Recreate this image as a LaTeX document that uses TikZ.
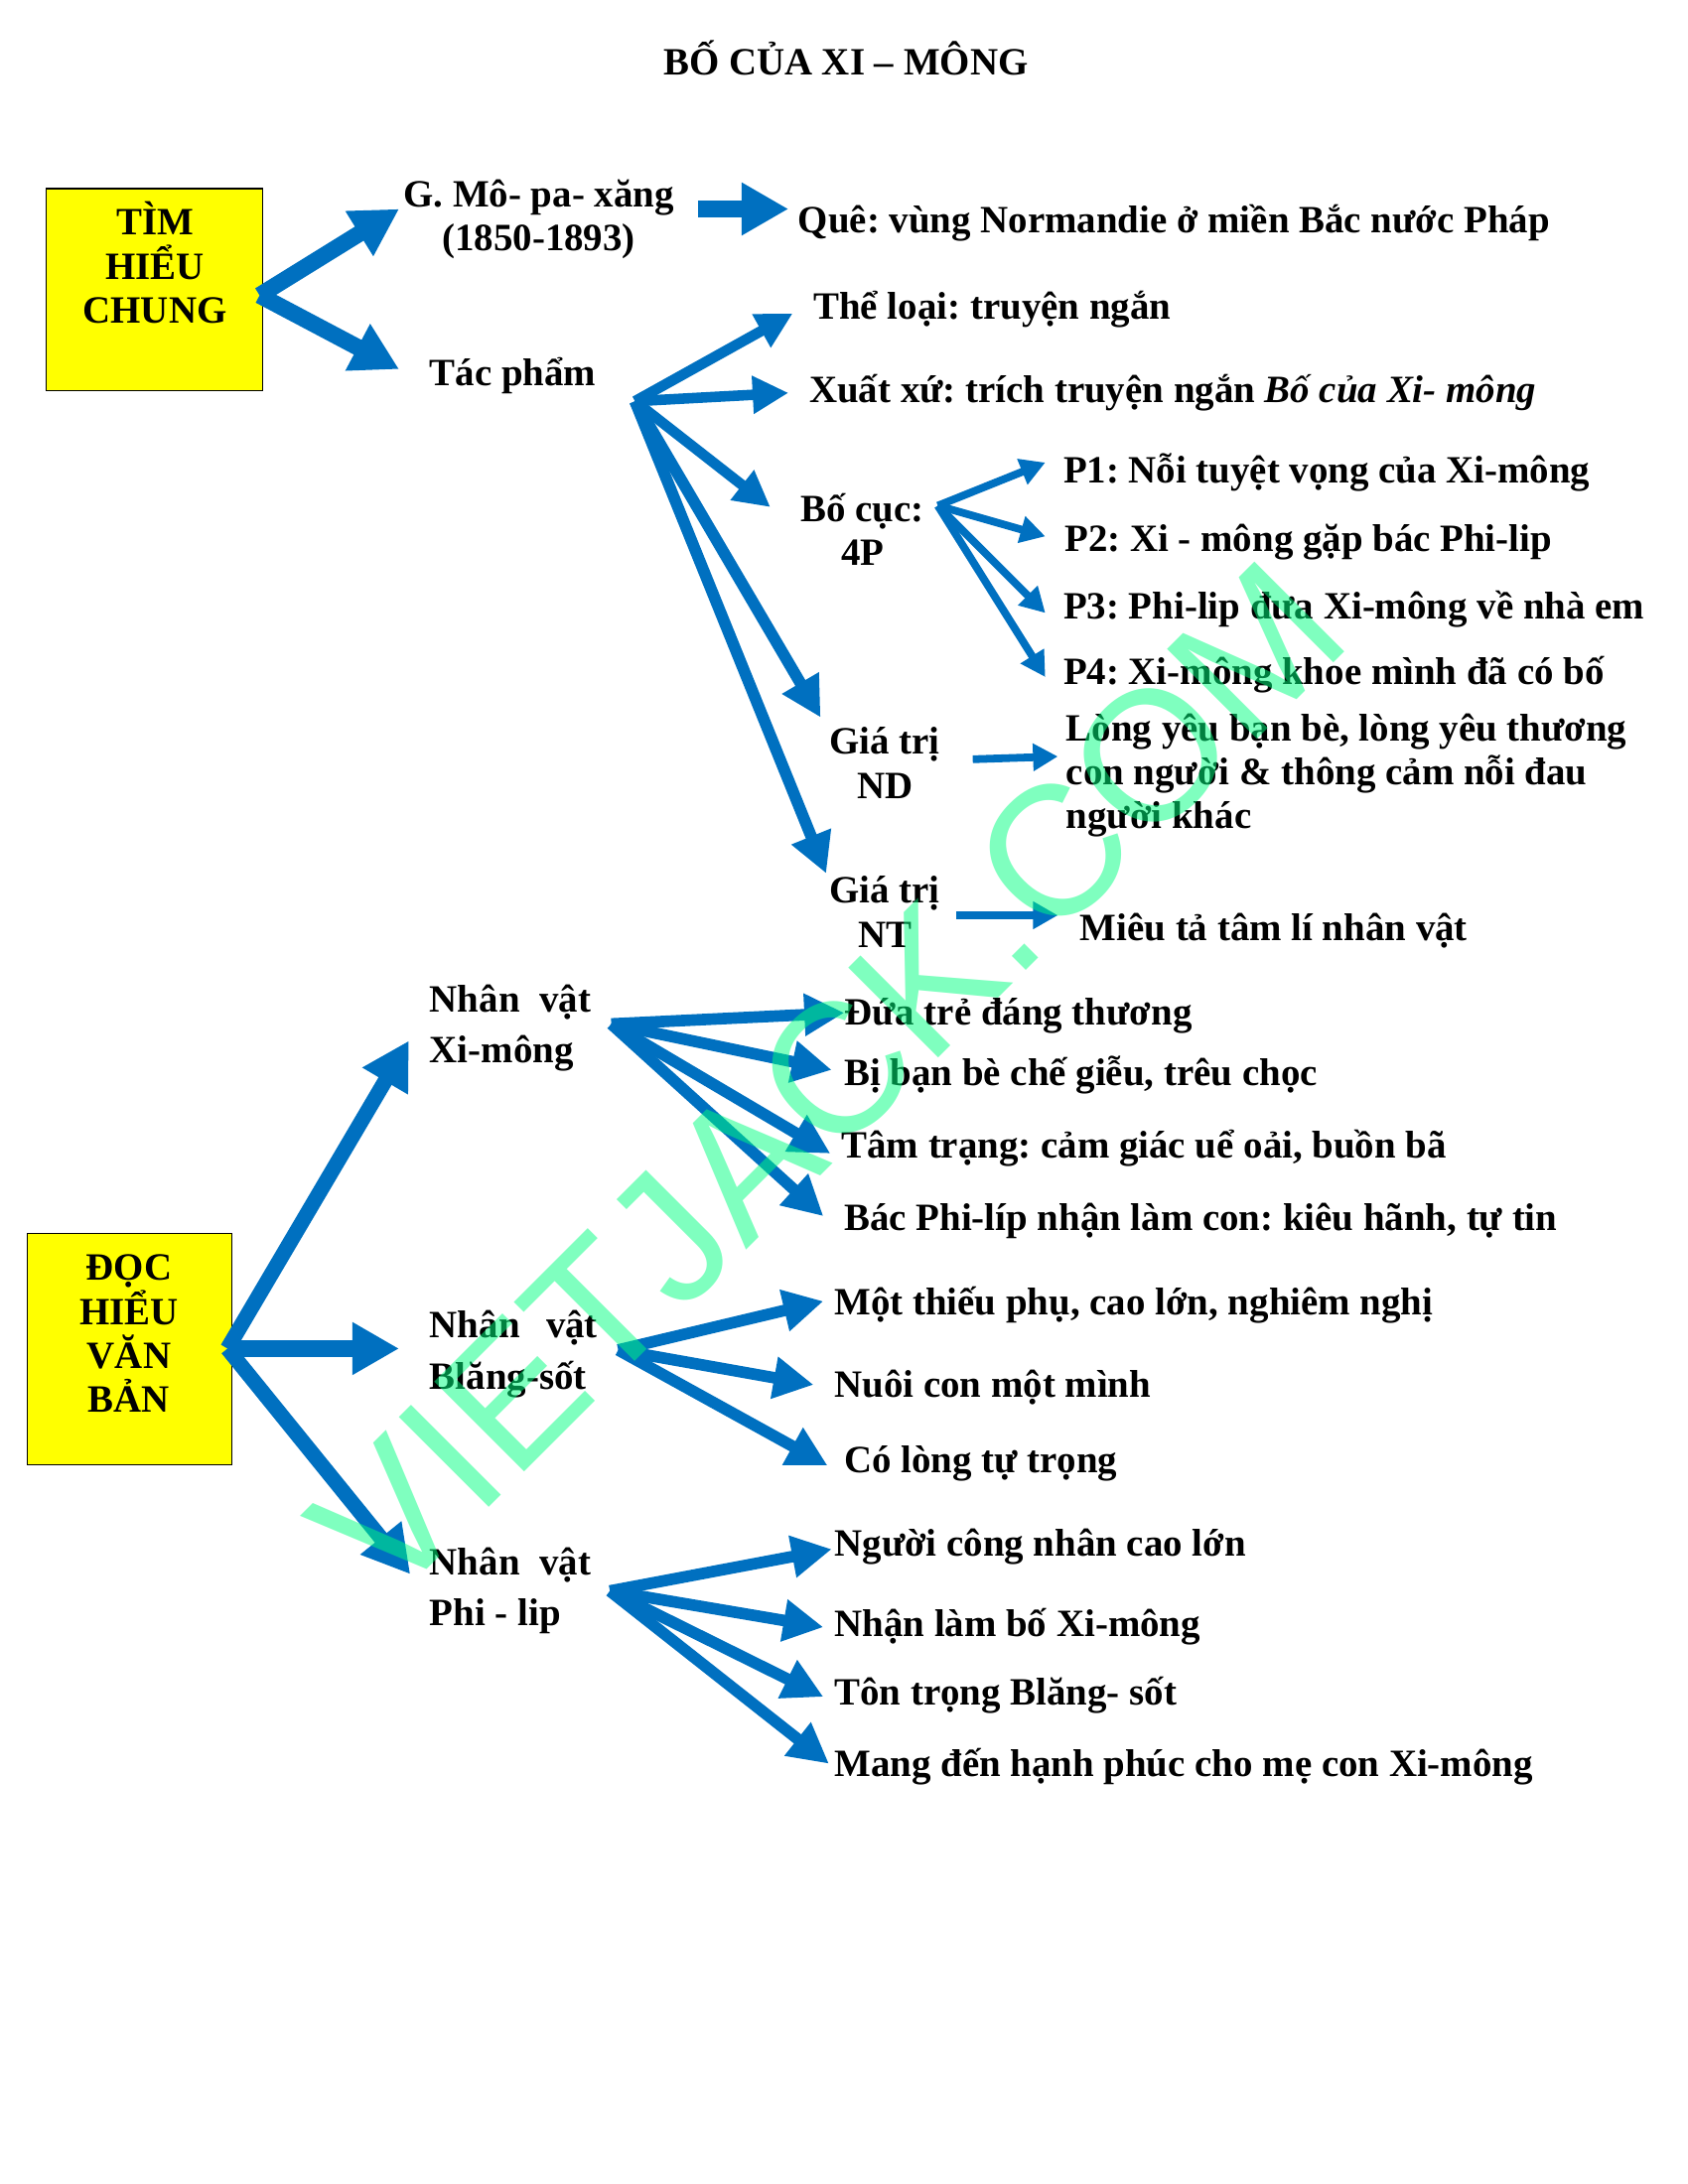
\documentclass[tikz,border=0pt]{standalone}
\usepackage{fontspec}
\setmainfont{Liberation Serif}
\newfontfamily\wmfont{Liberation Sans}
\usetikzlibrary{arrows.meta}
\definecolor{arrowblue}{HTML}{0070C0}
\definecolor{boxyellow}{HTML}{FFFF00}
\frenchspacing
\tikzset{
  lbl/.style={inner sep=0pt,outer sep=0pt,font=\fontsize{14}{16}\selectfont\bfseries\frenchspacing,anchor=base west},
  ctr/.style={lbl,anchor=base,align=center},
  wide/.style={lbl,align=left,font=\fontsize{14}{18.5}\selectfont\bfseries\frenchspacing},
  yellowbox/.style={draw=black,line width=0.4pt,fill=boxyellow},
  bigarrow/.style={draw=arrowblue,line width=6pt,-{Triangle[length=17pt,width=18pt]}},
  bigslim/.style={draw=arrowblue,line width=5.5pt,-{Triangle[length=17pt,width=18pt]}},
  midbold/.style={draw=arrowblue,line width=4.2pt,-{Triangle[length=14.5pt,width=14.5pt]}},
  midarrow/.style={draw=arrowblue,line width=3.8pt,-{Triangle[length=13pt,width=13pt]}},
  thinarrow/.style={draw=arrowblue,line width=2.8pt,-{Triangle[length=9pt,width=9.5pt]}},
  watermark/.style={inner sep=0pt,outer sep=0pt,anchor=base west,rotate=45,text opacity=0.5,text={rgb,255:red,0;green,255;blue,128},font=\wmfont\fontsize{67}{67}\selectfont},
}
\begin{document}
\begin{tikzpicture}[x=0.506pt,y=-0.5052pt]
\useasboundingbox (0,0) rectangle (1209.5,1567.7);
% boxes
\node[yellowbox,minimum width=78.4pt,minimum height=73.4pt,inner sep=0pt,anchor=north west] (boxA) at (33,135) {};
\node[yellowbox,minimum width=74.4pt,minimum height=84pt,inner sep=0pt,anchor=north west] (boxB) at (19,885) {};
\node[ctr] (boxAtext) at (111,232) {TÌM\\HIỂU\\CHUNG};
\node[ctr] (boxBtext) at (92.5,1014) {ĐỌC\\HIỂU\\VĂN\\BẢN};
% title and texts
\node[ctr] (title) at (606,54) {BỐ CỦA XI – MÔNG};
\node[ctr] (author) at (386,180) {G. Mô- pa- xăng\\(1850-1893)};
\node[lbl] (que) at (572,167) {Quê: vùng Normandie ở miền Bắc nước Pháp};
\node[lbl] (tacpham) at (308,277) {Tác phẩm};
\node[lbl] (theloai) at (583,229) {Thể loại: truyện ngắn};
\node[lbl] (xuatxu) at (580,289) {Xuất xứ: trích truyện ngắn \textit{Bố của Xi- mông}};
\node[ctr] (bocuc) at (618,406) {Bố cục:\\4P};
\node[lbl] (p1) at (762,347) {P1: Nỗi tuyệt vọng của Xi-mông};
\node[lbl] (p2) at (763,396) {P2: Xi - mông gặp bác Phi-lip};
\node[lbl] (p3) at (762,444) {P3: Phi-lip đưa Xi-mông về nhà em};
\node[lbl] (p4) at (762,491) {P4: Xi-mông khoe mình đã có bố};
\node[ctr] (nd) at (634,573) {Giá trị\\ND};
\node[lbl,align=left] (ndtext) at (764,595) {Lòng yêu bạn bè, lòng yêu thương\\con người \& thông cảm nỗi đau\\người khác};
\node[ctr] (nt) at (634,680) {Giá trị\\NT};
\node[lbl] (nttext) at (774,675) {Miêu tả tâm lí nhân vật};
\node[wide] (nv1) at (308,763) {Nhân\hspace{0.5em}vật\\Xi-mông};
\node[lbl] (a1) at (605,736) {Đứa trẻ đáng thương};
\node[lbl] (a2) at (605,779) {Bị bạn bè chế giễu, trêu chọc};
\node[lbl] (a3) at (603,831) {Tâm trạng: cảm giác uể oải, buồn bã};
\node[lbl] (a4) at (605,883) {Bác Phi-líp nhận làm con: kiêu hãnh, tự tin};
\node[wide] (nv2) at (308,997) {Nhân\hspace{0.68em}vật\\Blăng-sốt};
\node[lbl] (b1) at (598,944) {Một thiếu phụ, cao lớn, nghiêm nghị};
\node[lbl] (b2) at (598,1003) {Nuôi con một mình};
\node[lbl] (b3) at (605,1057) {Có lòng tự trọng};
\node[wide] (nv3) at (308,1167) {Nhân\hspace{0.5em}vật\\Phi - lip};
\node[lbl] (c1) at (598,1117) {Người công nhân cao lớn};
\node[lbl] (c2) at (598,1175) {Nhận làm bố Xi-mông};
\node[lbl] (c3) at (598,1224) {Tôn trọng Blăng- sốt};
\node[lbl] (c4) at (598,1275) {Mang đến hạnh phúc cho mẹ con Xi-mông};
% hubs
\coordinate (hA) at (186,212);
\coordinate (hT) at (455,288);
\coordinate (hP) at (672,363);
\coordinate (hX) at (438,735);
\coordinate (hB) at (163,968);
\coordinate (hS) at (443,969);
\coordinate (hL) at (437,1142);
% ends
\coordinate (eAuthor) at (286,150);
\coordinate (eTac) at (286,265);
\coordinate (sQue) at (500,150);
\coordinate (eQue) at (565,150);
\coordinate (eThe) at (568,225);
\coordinate (eXuat) at (565,282);
\coordinate (eBo) at (552,364);
\coordinate (eNd) at (588,515);
\coordinate (eNt) at (592,627);
\coordinate (eP1) at (749,332);
\coordinate (eP2) at (749,385);
\coordinate (eP3) at (749,440);
\coordinate (eP4) at (749,486);
\coordinate (sNd) at (697,545);
\coordinate (eNdT) at (758,543);
\coordinate (sNt) at (685,657);
\coordinate (eNtT) at (758,657);
\coordinate (eA1) at (605,727);
\coordinate (eA2) at (596,768);
\coordinate (eA3) at (595,828);
\coordinate (eA4) at (590,873);
\coordinate (eV1) at (293,747);
\coordinate (eV2) at (286,968);
\coordinate (eV3) at (294,1130);
\coordinate (eB1) at (590,934);
\coordinate (eB2) at (583,994);
\coordinate (eB3) at (593,1052);
\coordinate (eC1) at (596,1112);
\coordinate (eC2) at (590,1168);
\coordinate (eC3) at (590,1218);
\coordinate (eC4) at (594,1266);
% arrows
\draw[bigarrow] (hA) -- (eAuthor);
\draw[bigarrow] (hA) -- (eTac);
\draw[bigarrow] (sQue) -- (eQue);
\draw[midarrow] (hT) -- (eThe);
\draw[midarrow] (hT) -- (eXuat);
\draw[midarrow] (hT) -- (eBo);
\draw[midbold] (hT) -- (eNd);
\draw[midbold] (hT) -- (eNt);
\draw[thinarrow] (hP) -- (eP1);
\draw[thinarrow] (hP) -- (eP2);
\draw[thinarrow] (hP) -- (eP3);
\draw[thinarrow] (hP) -- (eP4);
\draw[thinarrow] (sNd) -- (eNdT);
\draw[thinarrow] (sNt) -- (eNtT);
\draw[midbold] (hX) -- (eA1);
\draw[midbold] (hX) -- (eA2);
\draw[midbold] (hX) -- (eA3);
\draw[midbold] (hX) -- (eA4);
\draw[bigslim] (hB) -- (eV1);
\draw[bigarrow] (hB) -- (eV2);
\draw[bigslim] (hB) -- (eV3);
\draw[midbold] (hS) -- (eB1);
\draw[midbold] (hS) -- (eB2);
\draw[midbold] (hS) -- (eB3);
\draw[midbold] (hL) -- (eC1);
\draw[midbold] (hL) -- (eC2);
\draw[midbold] (hL) -- (eC3);
\draw[midbold] (hL) -- (eC4);
% watermark
\node[watermark] (wm) at (279.6,1153) {VIETJACK.COM};
\end{tikzpicture}
\end{document}
